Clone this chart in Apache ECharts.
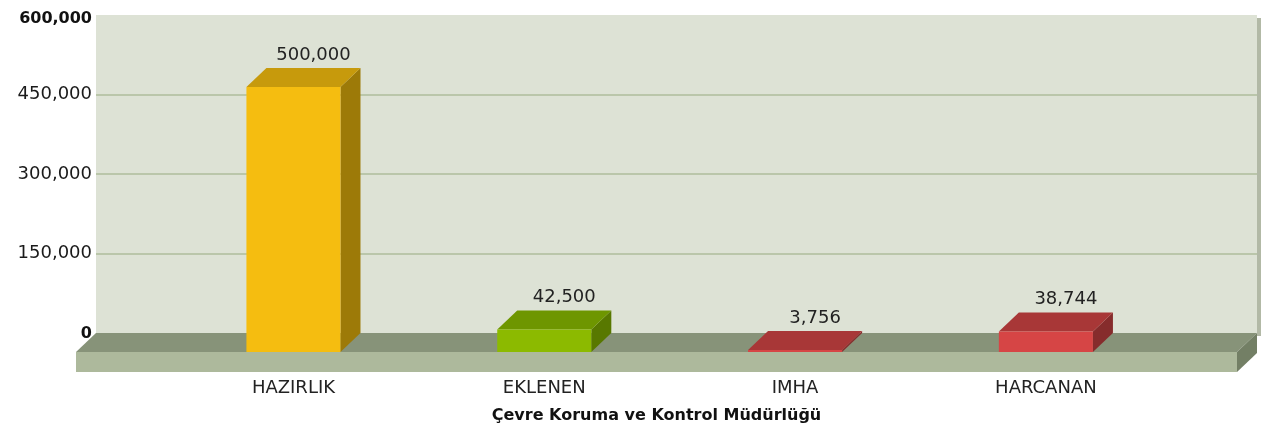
<!DOCTYPE html>
<html>
<head>
<meta charset="utf-8">
<script src="https://cdn.jsdelivr.net/npm/echarts@6/dist/echarts.min.js"></script>
<style>
  html, body { margin: 0; padding: 0; background: #fff; }
  #chart { width: 1264px; height: 433px; }
</style>
</head>
<body>
<div id="chart"></div>
<script>
// kategoriler ve degerler
var categories = ['HAZIRLIK', 'EKLENEN', 'IMHA', 'HARCANAN'];
var values = [500000, 42500, 3756, 38744];
var yTicks = [0, 150000, 300000, 450000, 600000];
var axisTitle = 'Çevre Koruma ve Kontrol Müdürlüğü';

// renkler (on yuz, ust yuz, yan yuz)
var frontColors = ['#f5bd10', '#8cba00', '#d64545', '#d64545'];
var topColors = ['#c79a0c', '#6e9600', '#a83737', '#a83737'];
var sideColors = ['#9d7a08', '#587800', '#862c2c', '#862c2c'];

var DX = 20, DY = 19; // 3d derinlik

var chart = echarts.init(document.getElementById('chart'));

function fmt(v) {
  return v.toLocaleString('en-US');
}

var option = {
  animation: false,
  textStyle: { fontFamily: 'DejaVu Sans' },
  grid: {
    left: 96, right: 7, top: 15, bottom: 100,
    show: true, backgroundColor: '#dde2d5', borderWidth: 0
  },
  xAxis: {
    type: 'value',
    min: -0.867,
    max: 3.762,
    axisLine: { show: false },
    axisTick: { show: false },
    splitLine: { show: false },
    axisLabel: {
      customValues: [0, 1, 2, 3],
      formatter: function (v) { return categories[v]; },
      margin: 46,
      padding: [0, 40, 0, 0],
      fontSize: 18,
      color: '#222'
    },
    name: axisTitle,
    nameLocation: 'middle',
    nameGap: 75,
    nameTextStyle: {
      fontSize: 16, fontWeight: 'bold', color: '#111',
      padding: [0, 40, 0, 0]
    }
  },
  yAxis: {
    type: 'value',
    min: yTicks[0],
    max: yTicks[yTicks.length - 1],
    interval: yTicks[1] - yTicks[0],
    axisLine: { show: false },
    axisTick: { show: false },
    splitLine: {
      show: true,
      showMinLine: false,
      showMaxLine: false,
      lineStyle: { color: '#aebc9b', width: 1.5 }
    },
    axisLabel: {
      margin: 4,
      fontSize: 18,
      color: '#1a1a1a',
      formatter: function (v) {
        if (v === 600000) return '{t|' + fmt(v) + '}';
        if (v === 0) return '{b|' + fmt(v) + '}';
        return fmt(v);
      },
      rich: {
        t: { fontSize: 16, fontWeight: 'bold', color: '#111', padding: [7, 0, 0, 0] },
        b: { fontSize: 16, fontWeight: 'bold', color: '#111', padding: [2, 0, 0, 0] }
      }
    }
  },
  series: [
    {
      // zemin
      type: 'custom',
      z: 1,
      data: [[0]],
      silent: true,
      renderItem: function (params, api) {
        var cs = params.coordSys;
        var x0 = cs.x, x1 = cs.x + cs.width, yb = cs.y + cs.height;
        return {
          type: 'group',
          children: [
            { type: 'rect', shape: { x: x1, y: cs.y + 3, width: 4, height: cs.height }, style: { fill: '#b2b9a6' } },
            { type: 'polygon', shape: { points: [[x0, yb], [x1, yb], [x1 - DX, yb + DY], [x0 - DX, yb + DY]] }, style: { fill: '#879379' } },
            { type: 'rect', shape: { x: x0 - DX, y: yb + DY, width: cs.width, height: 20 }, style: { fill: '#adb99c' } },
            { type: 'polygon', shape: { points: [[x1 - DX, yb + DY], [x1, yb], [x1, yb + 20], [x1 - DX, yb + DY + 20]] }, style: { fill: '#737f65' } }
          ]
        };
      }
    },
    {
      // 3d cubuklar
      type: 'custom',
      z: 2,
      data: values.map(function (v, i) { return [i, v]; }),
      renderItem: function (params, api) {
        var i = api.value(0);
        var top = api.coord([i, api.value(1)]);
        var base = api.coord([i, 0]);
        var w = api.size([1, 0])[0] * 0.375;
        var bl = top[0] - w / 2, br = top[0] + w / 2;
        var fl = bl - DX, fr = br - DX;
        var fTop = top[1] + DY, fBot = base[1] + DY;
        return {
          type: 'group',
          children: [
            { type: 'polygon', shape: { points: [[fr, fTop], [br, top[1]], [br, base[1]], [fr, fBot]] }, style: { fill: sideColors[i] } },
            { type: 'polygon', shape: { points: [[fl, fTop], [fr, fTop], [br, top[1]], [bl, top[1]]] }, style: { fill: topColors[i] } },
            { type: 'rect', shape: { x: fl, y: fTop, width: w, height: fBot - fTop }, style: { fill: frontColors[i] } },
            {
              type: 'text',
              style: {
                x: top[0], y: top[1] - 13,
                text: fmt(api.value(1)),
                textAlign: 'center', textVerticalAlign: 'middle',
                fontSize: 18, fontFamily: 'DejaVu Sans', fill: '#222'
              }
            }
          ]
        };
      }
    }
  ]
};

chart.setOption(option);
</script>
</body>
</html>
